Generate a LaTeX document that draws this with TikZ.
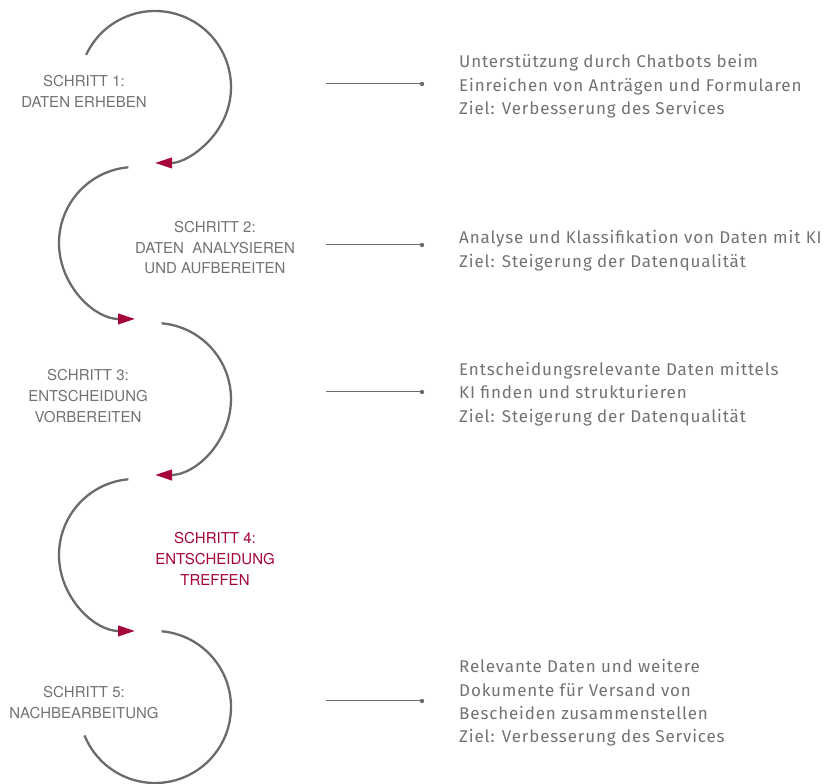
\documentclass[tikz,border=0pt]{standalone}
\usepackage{fontspec}
\setmainfont{Fira Sans}
\newfontfamily\rfont{Fira Sans}[LetterSpace=5]
\newfontfamily\labelfont{TeX Gyre Heros}
\usetikzlibrary{arrows.meta}
\definecolor{arcgray}{HTML}{6B6B6E}
\definecolor{txtgray}{HTML}{727272}
\definecolor{crimson}{HTML}{A5053A}
\begin{document}
\begin{tikzpicture}[x=1pt,y=1pt,
  steparc/.style={draw=arcgray, line width=2.3pt, -{Triangle[length=17pt,width=10.5pt,color=crimson]}},
  conn/.style={draw=arcgray, line width=1pt},
  dotend/.style={fill=arcgray},
  lbl/.style={font=\labelfont\fontsize{15}{20.8}\selectfont, text=txtgray, inner sep=0pt, anchor=base},
  lblred/.style={lbl, text=crimson},
  rtext/.style={font=\rfont\fontsize{17}{23.3}\selectfont, text=txtgray, inner sep=0pt, anchor=base west}
]
\useasboundingbox (0,0) rectangle (835,784);
% arc centres
\coordinate (c1) at (155,697);
\coordinate (c2) at (135,541);
\coordinate (c3) at (155,385);
\coordinate (c4) at (135,229);
\coordinate (c5) at (155,77);
\path (c1) ++(155:76) coordinate (a1s);
\path (c2) ++(95:76) coordinate (a2s);
\path (c3) ++(85:76) coordinate (a3s);
\path (c4) ++(95:76) coordinate (a4s);
\path (c5) ++(85:76) coordinate (a5s);
\draw[steparc] (a1s) arc[start angle=155, end angle=-90, radius=76];
\draw[steparc] (a2s) arc[start angle=95, end angle=270, radius=76];
\draw[steparc] (a3s) arc[start angle=85, end angle=-90, radius=76];
\draw[steparc] (a4s) arc[start angle=95, end angle=270, radius=76];
\draw[draw=arcgray, line width=2.3pt] (a5s) arc[start angle=85, end angle=-158, radius=76];
% step labels
\node[lbl] (s1) at (84,697.3) {\begin{tabular}[t]{@{}c@{}}SCHRITT 1:\\DATEN ERHEBEN\end{tabular}};
\node[lbl] (s2) at (215,551.7) {\begin{tabular}[t]{@{}c@{}}SCHRITT 2:\\DATEN~ ANALYSIEREN\\UND AUFBEREITEN\end{tabular}};
\node[lbl] (s3) at (88,403) {\begin{tabular}[t]{@{}c@{}}SCHRITT 3:\\ENTSCHEIDUNG\\VORBEREITEN\end{tabular}};
\node[lblred] (s4) at (215,240) {\begin{tabular}[t]{@{}c@{}}SCHRITT 4:\\ENTSCHEIDUNG\\TREFFEN\end{tabular}};
\node[lbl] (s5) at (84,86) {\begin{tabular}[t]{@{}c@{}}SCHRITT 5:\\NACHBEARBEITUNG\end{tabular}};
% connectors
\coordinate (l1a) at (326,700); \coordinate (l1b) at (422,700);
\coordinate (l2a) at (326,539); \coordinate (l2b) at (422,539);
\coordinate (l3a) at (326,392); \coordinate (l3b) at (422,392);
\coordinate (l5a) at (326,83);  \coordinate (l5b) at (422,83);
\draw[conn] (l1a) -- (l1b); \fill[dotend] (l1b) circle (2.2pt);
\draw[conn] (l2a) -- (l2b); \fill[dotend] (l2b) circle (2.2pt);
\draw[conn] (l3a) -- (l3b); \fill[dotend] (l3b) circle (2.2pt);
\draw[conn] (l5a) -- (l5b); \fill[dotend] (l5b) circle (2.2pt);
% descriptions
\node[rtext] (r1) at (459,716.2) {\begin{tabular}[t]{@{}l@{}}Unterstützung durch Chatbots beim\\Einreichen von Anträgen und Formularen\\Ziel: Verbesserung des Services\end{tabular}};
\node[rtext] (r2) at (459,540.2) {\begin{tabular}[t]{@{}l@{}}Analyse und Klassifikation von Daten mit KI\\Ziel: Steigerung der Datenqualität\end{tabular}};
\node[rtext] (r3) at (459,408.5) {\begin{tabular}[t]{@{}l@{}}Entscheidungsrelevante Daten mittels\\KI finden und strukturieren\\Ziel: Steigerung der Datenqualität\end{tabular}};
\node[rtext] (r5) at (459,111.2) {\begin{tabular}[t]{@{}l@{}}Relevante Daten und weitere\\Dokumente für Versand von\\Bescheiden zusammenstellen\\Ziel: Verbesserung des Services\end{tabular}};
\end{tikzpicture}
\end{document}
